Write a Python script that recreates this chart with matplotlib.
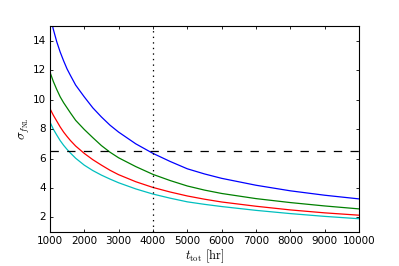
import matplotlib
matplotlib.use("Agg")
import matplotlib.pyplot as plt

plt.style.use('classic')
plt.rcParams['mathtext.fontset'] = 'cm'
plt.rcParams['font.size'] = 7.5

# values
t_tot = [1000, 1100, 1200, 1300, 1400, 1500, 1600, 1750, 2000, 2250,
         2500, 2750, 3000, 3500, 4000, 4500, 5000, 5500, 6000, 7000,
         8000, 9000, 10000]
sigma_blue = [15.8, 14.8, 13.95, 13.25, 12.65, 12.1, 11.65, 11.0, 10.2, 9.45,
              8.83, 8.27, 7.8, 7.0, 6.35, 5.8, 5.3, 4.95, 4.65, 4.18,
              3.8, 3.5, 3.25]
sigma_green = [11.9, 11.25, 10.7, 10.2, 9.8, 9.45, 9.1, 8.6, 7.98, 7.42,
               6.88, 6.43, 6.05, 5.45, 4.92, 4.5, 4.13, 3.85, 3.62, 3.27,
               3.0, 2.77, 2.57]
sigma_red = [9.41, 8.95, 8.55, 8.15, 7.8, 7.5, 7.22, 6.85, 6.35, 5.92,
             5.55, 5.2, 4.9, 4.42, 4.03, 3.72, 3.45, 3.23, 3.04, 2.75,
             2.5, 2.3, 2.14]
sigma_cyan = [8.5, 8.0, 7.6, 7.22, 6.9, 6.62, 6.37, 6.02, 5.55, 5.18,
              4.87, 4.6, 4.35, 3.93, 3.58, 3.3, 3.05, 2.88, 2.73, 2.47,
              2.25, 2.06, 1.9]
sigma_target = 6.5
t_mark = 4000

fig = plt.figure(figsize=(3.99, 2.66), dpi=100)
ax = fig.add_axes([0.125, 0.128, 0.775, 0.773])

ax.plot(t_tot, sigma_blue, 'b-', lw=0.9)
ax.plot(t_tot, sigma_green, 'g-', lw=0.9)
ax.plot(t_tot, sigma_red, 'r-', lw=0.9)
ax.plot(t_tot, sigma_cyan, 'c-', lw=0.9)
ax.axhline(sigma_target, color='k', ls='--', lw=0.9)
ax.axvline(t_mark, color='k', ls=':', lw=0.9)

ax.set_xlim(1000, 10000)
ax.set_ylim(1, 15)
ax.set_xticks(range(1000, 10001, 1000))
ax.set_yticks(range(2, 15, 2))
ax.tick_params(labelsize=7.5, length=2.5, width=0.6, pad=3)
for s in ax.spines.values():
    s.set_linewidth(0.8)

ax.set_xlabel(r'$t_{\rm tot}\ [{\rm hr}]$', fontsize=9, labelpad=1)
ax.set_ylabel(r'$\sigma_{f_{\rm NL}}$', fontsize=9.5, labelpad=0)

fig.savefig('out.png', dpi=100)
